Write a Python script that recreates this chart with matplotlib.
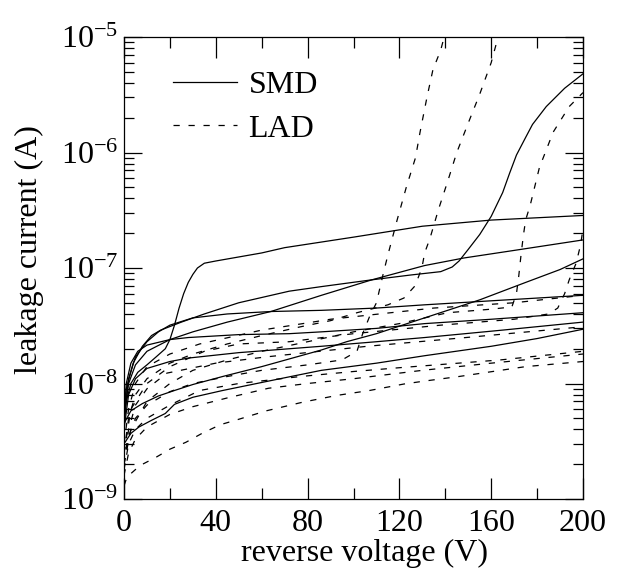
import numpy as np
import matplotlib
matplotlib.use('Agg')
import matplotlib.pyplot as plt
from matplotlib.ticker import LogLocator, NullFormatter, FixedLocator

plt.rcParams['font.family'] = ['Liberation Serif', 'DejaVu Serif']
plt.rcParams['mathtext.fontset'] = 'custom'
plt.rcParams['mathtext.rm'] = 'Liberation Serif'
plt.rcParams['mathtext.it'] = 'Liberation Serif:italic'

# SMD curves (solid): (voltage V, current A)
smd1_v = [0, 1, 3, 6, 10, 14, 18, 20, 22, 24, 26, 28, 30, 32, 35, 40, 60, 70, 100, 130, 160, 200]
smd1_i = [4.5e-9, 7e-9, 1e-8, 1.25e-8, 1.45e-8, 1.7e-8, 2e-8, 2.4e-8, 3.2e-8, 4.5e-8, 6e-8, 7.5e-8,
          8.8e-8, 1.0e-7, 1.1e-7, 1.15e-7, 1.35e-7, 1.5e-7, 1.85e-7, 2.3e-7, 2.6e-7, 2.85e-7]
smd2_v = [0, 1, 4, 8, 12, 16, 25, 35, 50, 72, 86, 108, 125, 138, 143, 146, 150, 155, 160, 165, 168,
          171, 175, 178, 184, 192, 200]
smd2_i = [4e-9, 9e-9, 1.5e-8, 2.1e-8, 2.6e-8, 2.9e-8, 3.4e-8, 4e-8, 5e-8, 6.3e-8, 6.9e-8, 7.9e-8,
          8.7e-8, 9.3e-8, 1.02e-7, 1.15e-7, 1.45e-7, 1.95e-7, 2.8e-7, 4.5e-7, 6.6e-7, 9.5e-7,
          1.35e-6, 1.75e-6, 2.5e-6, 3.6e-6, 4.8e-6]
smd3_v = [0, 2, 5, 10, 20, 30, 45, 64, 86, 108, 131, 148, 170, 200]
smd3_i = [5e-9, 1e-8, 1.45e-8, 1.9e-8, 2.4e-8, 2.8e-8, 3.4e-8, 4.2e-8, 5.8e-8, 7.9e-8, 1.05e-7,
          1.22e-7, 1.42e-7, 1.75e-7]
smd4_v = [0, 2, 5, 10, 15, 20, 30, 45, 64, 86, 110, 131, 160, 200]
smd4_i = [5e-9, 1.1e-8, 1.7e-8, 2.3e-8, 2.8e-8, 3.2e-8, 3.7e-8, 4e-8, 4.2e-8, 4.3e-8, 4.5e-8,
          4.8e-8, 5.2e-8, 5.8e-8]
smd5_v = [0, 3, 8, 15, 22, 30, 43, 60, 86, 97, 110, 131, 155, 175, 190, 200]
smd5_i = [4.5e-9, 5.8e-9, 6.7e-9, 7.8e-9, 8.7e-9, 9.8e-9, 1.15e-8, 1.4e-8, 1.95e-8, 2.3e-8, 2.7e-8,
          3.7e-8, 5.3e-8, 7.5e-8, 9.7e-8, 1.2e-7]
smd6_v = [0, 1, 3, 6, 10, 20, 28, 50, 72, 86, 110, 131, 160, 200]
smd6_i = [5e-9, 1e-8, 1.5e-8, 1.9e-8, 2.15e-8, 2.4e-8, 2.5e-8, 2.65e-8, 2.7e-8, 2.8e-8, 3e-8,
          3.3e-8, 3.6e-8, 4.1e-8]
smd7_v = [0, 2, 5, 10, 20, 28, 50, 86, 110, 131, 165, 200]
smd7_i = [4e-9, 8e-9, 1.1e-8, 1.35e-8, 1.55e-8, 1.66e-8, 1.85e-8, 2.1e-8, 2.3e-8, 2.5e-8, 2.9e-8, 3.4e-8]
smd8_v = [0, 3, 6.5, 12, 18, 22, 30, 43, 68, 86, 110, 131, 160, 180, 200]
smd8_i = [3e-9, 3.7e-9, 4.2e-9, 4.8e-9, 5.5e-9, 6.6e-9, 7.6e-9, 8.7e-9, 1.1e-8, 1.3e-8, 1.5e-8,
          1.74e-8, 2.1e-8, 2.45e-8, 2.95e-8]

# LAD curves (dashed)
lad1_v = [0, 2, 5, 10, 20, 30, 45, 60, 80, 95, 101.5, 104, 107, 110, 113, 115, 119, 123, 127, 129,
          132, 134.6, 138, 139.5]
lad1_i = [2e-9, 3.5e-9, 5e-9, 6.5e-9, 8.5e-9, 1e-8, 1.15e-8, 1.3e-8, 1.45e-8, 1.6e-8, 1.9e-8, 2.7e-8,
          3.8e-8, 5e-8, 9e-8, 1.3e-7, 2.6e-7, 5e-7, 9e-7, 1.5e-6, 3e-6, 5.2e-6, 7.7e-6, 1e-5]
lad2_v = [0, 2, 5, 10, 20, 30, 45, 60, 77, 90, 101.5, 115, 122, 126.8, 129.8, 131, 133.3, 137, 141,
          145, 150, 155, 160, 163]
lad2_i = [2.5e-9, 5e-9, 8e-9, 1.1e-8, 1.5e-8, 1.8e-8, 2.2e-8, 2.6e-8, 3.1e-8, 3.5e-8, 4.1e-8, 4.8e-8,
          5.5e-8, 7e-8, 1e-7, 1.35e-7, 1.8e-7, 3.2e-7, 5.6e-7, 1e-6, 1.8e-6, 3.2e-6, 6e-6, 1e-5]
lad3_v = [0, 3, 10, 20, 30, 45, 60, 80, 100, 120, 141, 160, 169, 171, 172, 173, 174, 175, 177, 181,
          187, 194, 200]
lad3_i = [2e-9, 4e-9, 7e-9, 1e-8, 1.3e-8, 1.6e-8, 1.9e-8, 2.3e-8, 2.8e-8, 3.3e-8, 4.1e-8, 4.4e-8,
          4.6e-8, 6e-8, 8.5e-8, 1.3e-7, 1.9e-7, 2.6e-7, 3.5e-7, 7.4e-7, 1.5e-6, 2.5e-6, 3.3e-6]
lad4_v = [0, 3, 10, 20, 35, 50, 72, 100, 138, 170, 185, 189, 192, 194, 197, 199, 200]
lad4_i = [2.5e-9, 6e-9, 1e-8, 1.4e-8, 1.9e-8, 2.2e-8, 2.3e-8, 2.7e-8, 3.2e-8, 3.6e-8, 4e-8, 4.5e-8,
          6e-8, 7.9e-8, 1.1e-7, 1.6e-7, 2.2e-7]
lad5_v = [0, 2, 5, 10, 20, 33, 60, 90, 135, 170, 200]
lad5_i = [3e-9, 6e-9, 1e-8, 1.4e-8, 1.8e-8, 2.2e-8, 2.9e-8, 3.6e-8, 4.5e-8, 5e-8, 5.8e-8]
lad6_v = [0, 2, 5, 10, 18.7, 40, 62, 106, 149, 200]
lad6_i = [2e-9, 4e-9, 6.5e-9, 9e-9, 1.23e-8, 1.5e-8, 1.7e-8, 2.1e-8, 2.5e-8, 3.1e-8]
lad7_v = [0, 2, 5, 10, 20, 33, 50, 77, 100, 120, 164, 200]
lad7_i = [1.8e-9, 3e-9, 4e-9, 5e-9, 6.5e-9, 8.7e-9, 1e-8, 1.15e-8, 1.27e-8, 1.37e-8, 1.6e-8, 1.9e-8]
lad8_v = [0, 2, 5, 10, 20, 30, 45, 63, 80, 100, 130, 160, 200]
lad8_i = [1.6e-9, 2.5e-9, 3.3e-9, 4.2e-9, 5.4e-9, 6.3e-9, 7.5e-9, 9.1e-9, 1.0e-8, 1.1e-8, 1.3e-8,
          1.5e-8, 1.8e-8]
lad9_v = [0, 1.3, 7, 14, 20, 27, 34, 42, 50, 62, 78, 93, 107, 122, 131, 146, 175, 200]
lad9_i = [1.3e-9, 1.55e-9, 1.95e-9, 2.3e-9, 2.7e-9, 3.1e-9, 3.7e-9, 4.4e-9, 4.9e-9, 5.8e-9, 6.9e-9,
          7.9e-9, 8.7e-9, 9.9e-9, 1.05e-8, 1.15e-8, 1.4e-8, 1.55e-8]

smd = [(smd1_v, smd1_i), (smd2_v, smd2_i), (smd3_v, smd3_i), (smd4_v, smd4_i),
       (smd5_v, smd5_i), (smd6_v, smd6_i), (smd7_v, smd7_i), (smd8_v, smd8_i)]
lad = [(lad1_v, lad1_i), (lad2_v, lad2_i), (lad3_v, lad3_i), (lad4_v, lad4_i), (lad5_v, lad5_i),
       (lad6_v, lad6_i), (lad7_v, lad7_i), (lad8_v, lad8_i), (lad9_v, lad9_i)]

fig = plt.figure(figsize=(6.27, 5.70), dpi=100)
ax = fig.add_axes([124/627, 1-499/570, (583-124)/627, (499-37)/570])

dash = (0, (5, 7))
for k, (v, i) in enumerate(smd):
    ax.plot(v, i, color='black', lw=0.9, label='SMD' if k == 0 else None)
for k, (v, i) in enumerate(lad):
    ax.plot(v, i, color='black', lw=0.9, linestyle=dash, label='LAD' if k == 0 else None)

ax.set_yscale('log')
ax.set_xlim(0, 200)
ax.set_ylim(1e-9, 1e-5)

ax.xaxis.set_major_locator(FixedLocator([0, 40, 80, 120, 160, 200]))
ax.xaxis.set_minor_locator(FixedLocator([20, 60, 100, 140, 180]))
ax.yaxis.set_minor_locator(LogLocator(base=10, subs=np.arange(2, 10), numticks=10))
ax.yaxis.set_minor_formatter(NullFormatter())
ax.set_yticks([1e-9, 1e-8, 1e-7, 1e-6, 1e-5])
ax.set_yticklabels(['10$^{-9}$', '10$^{-8}$', '10$^{-7}$', '10$^{-6}$', '10$^{-5}$'])

ax.tick_params(which='both', direction='in', top=True, right=True, labelsize=23, width=0.9)
ax.tick_params(axis='x', which='major', length=15, pad=7)
ax.tick_params(axis='x', which='minor', length=8)
ax.tick_params(axis='y', which='major', length=13, pad=4)
ax.tick_params(axis='y', which='minor', length=7)
for s in ax.spines.values():
    s.set_linewidth(0.9)

ax.set_xlabel('reverse voltage (V)', fontsize=23)
ax.set_ylabel('leakage current (A)', fontsize=23)
ax.xaxis.set_label_coords(0.525, -0.086)
ax.yaxis.set_label_coords(-0.175, 0.54)

ax.legend(loc='upper left', bbox_to_anchor=(0.08, 0.955), frameon=False, fontsize=23,
          handlelength=2.0, handletextpad=0.35, labelspacing=0.45, borderaxespad=0)

fig.savefig('out.png', dpi=100)
